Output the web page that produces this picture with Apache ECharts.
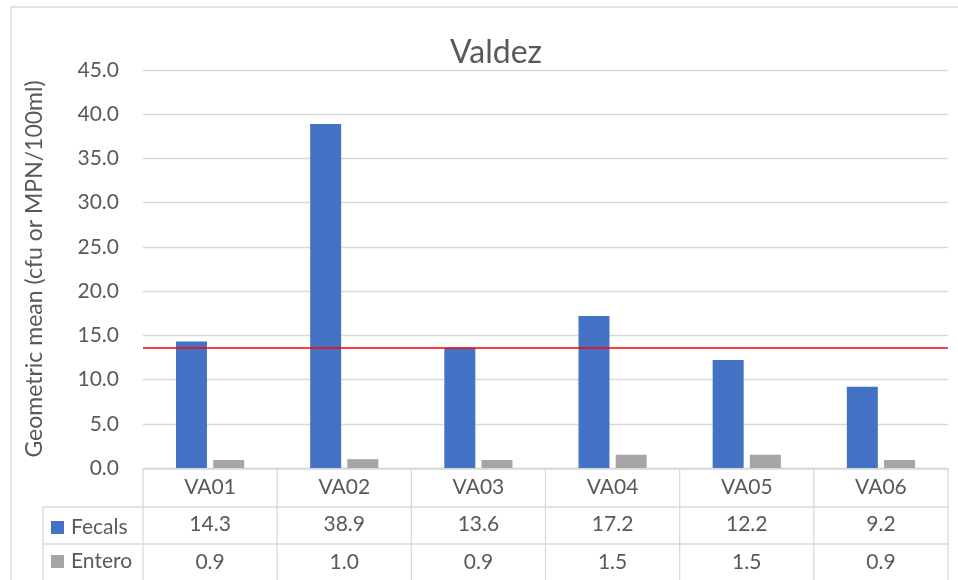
<!DOCTYPE html>
<html>
<head>
<meta charset="utf-8">
<script src="https://cdn.jsdelivr.net/npm/echarts@6/dist/echarts.min.js"></script>
<style>
  html, body { margin: 0; padding: 0; background: #fff; }
  #main { width: 958px; height: 580px; }
</style>
</head>
<body>
<div id="main"></div>
<script>
// data
const sites = ['VA01', 'VA02', 'VA03', 'VA04', 'VA05', 'VA06'];
const fecals = [14.3, 38.9, 13.6, 17.2, 12.2, 9.2];
const entero = [0.9, 1.0, 0.9, 1.5, 1.5, 0.9];
const standard = 13.6;

const chartDom = document.getElementById('main');
const myChart = echarts.init(chartDom);

// plot area
const gl = 143, gt = 70, gw = 805, gh = 398;
const txt = '#595959';
const lineCol = '#d9d9d9';
const font = 'Lato, "Open Sans", sans-serif';
const fs = 21;

// table lines
const rowTop = gt + gh + 1;
const row1 = rowTop + 38, row2 = row1 + 37, tableBottom = 600;
const tableLeft = 43;
const cw = gw / sites.length;
const lines = [];
const hline = (x1, x2, y) => lines.push({ type: 'line', shape: { x1, y1: y, x2, y2: y }, style: { stroke: lineCol, lineWidth: 1.3 }, silent: true });
const vline = (x, y1, y2) => lines.push({ type: 'line', shape: { x1: x, y1, x2: x, y2 }, style: { stroke: lineCol, lineWidth: 1.3 }, silent: true });
hline(gl, gl + gw, rowTop);
hline(tableLeft, gl + gw, row1);
hline(tableLeft, gl + gw, row2);
vline(tableLeft, row1, tableBottom);
for (let i = 0; i <= sites.length; i++) vline(gl + cw * i, rowTop, tableBottom);

const option = {
    backgroundColor: '#fff',
    textStyle: { fontFamily: font },
    title: {
        text: 'Valdez',
        left: 491, top: 32, textAlign: 'center',
        textStyle: { fontSize: 32, fontWeight: 'normal', color: txt, fontFamily: font }
    },
    legend: {
        orient: 'vertical',
        left: 46, top: 512, height: 90,
        itemWidth: 13, itemHeight: 13, itemGap: 13,
        icon: 'rect',
        textStyle: { fontSize: fs, color: txt, fontFamily: font, padding: [0, 0, 0, 2] },
        data: ['Fecals', 'Entero']
    },
    graphic: [
        { type: 'rect', shape: { x: 11, y: 7, width: 960, height: 600 }, style: { fill: 'none', stroke: lineCol, lineWidth: 1.3 }, silent: true, z: -1 },
        ...lines
    ],
    grid: { left: gl, top: gt, width: gw, height: gh },
    xAxis: [
        {
            type: 'category', data: sites,
            axisLine: { lineStyle: { color: lineCol, width: 1.3 } },
            axisTick: { show: false },
            axisLabel: { fontSize: fs, color: txt, margin: 9 }
        },
        {
            type: 'category', position: 'bottom', offset: 37,
            data: fecals.map(v => v.toFixed(1)),
            axisLine: { show: false }, axisTick: { show: false },
            axisLabel: { fontSize: fs, color: txt, margin: 9 }
        },
        {
            type: 'category', position: 'bottom', offset: 75,
            data: entero.map(v => v.toFixed(1)),
            axisLine: { show: false }, axisTick: { show: false },
            axisLabel: { fontSize: fs, color: txt, margin: 9 }
        }
    ],
    yAxis: {
        type: 'value', min: 0, max: 45, interval: 5,
        name: 'Geometric mean (cfu or MPN/100ml)',
        nameLocation: 'middle', nameGap: 97,
        nameTextStyle: { fontSize: 23, color: txt },
        axisLine: { show: false }, axisTick: { show: false },
        axisLabel: { fontSize: fs, color: txt, margin: 24, formatter: v => v.toFixed(1) },
        splitLine: { lineStyle: { color: lineCol, width: 1.3 } }
    },
    series: [
        {
            name: 'Fecals', type: 'bar', data: fecals,
            barWidth: 31, barGap: '20%',
            itemStyle: { color: '#4472C4' },
            markLine: {
                silent: true, symbol: 'none',
                label: { show: false },
                lineStyle: { color: '#ff0000', width: 1.5, type: 'solid' },
                data: [{ yAxis: standard }]
            }
        },
        {
            name: 'Entero', type: 'bar', data: entero,
            barWidth: 31,
            itemStyle: { color: '#A5A5A5' }
        }
    ]
};

option && myChart.setOption(option);
</script>
</body>
</html>
